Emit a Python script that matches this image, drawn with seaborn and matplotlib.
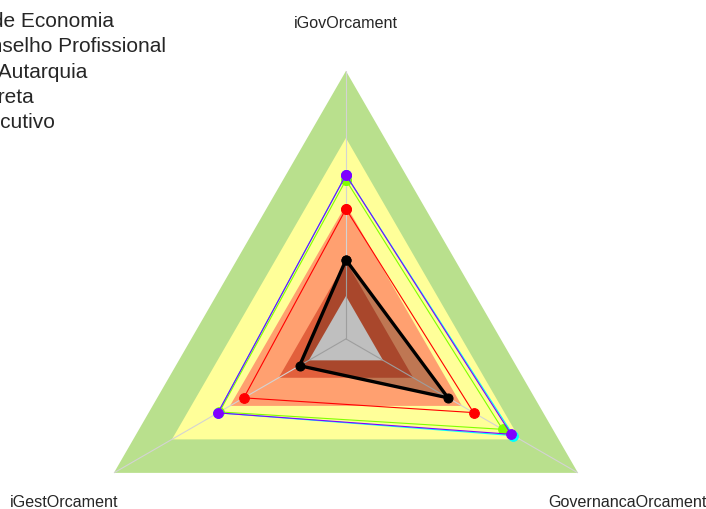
import numpy as np
import matplotlib
matplotlib.use('Agg')
import matplotlib.pyplot as plt
from matplotlib.lines import Line2D
import seaborn as sns

# Data
categories = ['iGovOrcament', 'GovernancaOrcament', 'iGestOrcament']
series_names = ['Mi de Economia', 'Conselho Profissional', 'Ind Autarquia',
                'Indireta', 'Executivo']
black_vals = [0.295, 0.44, 0.20]
red_vals = [0.485, 0.55, 0.44]
green_vals = [0.593, 0.675, 0.545]
cyan_vals = [0.612, 0.722, 0.552]
purple_vals = [0.612, 0.712, 0.552]
series_vals = [black_vals, red_vals, green_vals, cyan_vals, purple_vals]
series_colors = ['black', '#FF0000', '#80FF00', '#00FFFF', '#8000FF']

band_levels = [1.0, 0.75, 0.5, 0.29, 0.16]
band_colors = ['#B9E08D', '#FFFF99', '#FFA070', '#E2603C', 'white']

sns.set_style('white')
plt.rcParams['font.family'] = ['Liberation Sans', 'DejaVu Sans']

fig = plt.figure(figsize=(7.06, 5.10), dpi=100)
ax = fig.add_axes([0.1105, -0.192, 0.759, 1.051], projection='polar')
ax.set_theta_offset(np.pi / 2)
ax.set_theta_direction(-1)

theta = np.linspace(0, 2 * np.pi, len(categories), endpoint=False)
theta_c = np.append(theta, theta[0])

# background bands
for lev, col in zip(band_levels, band_colors):
    ax.fill(theta_c, [lev] * len(theta_c), color=col, lw=0, zorder=1)

# spokes
for t in theta:
    ax.plot([t, t], [0, 1], color='#D3D3D3', lw=0.8, zorder=2)

# black series fill
ax.fill(theta_c, black_vals + black_vals[:1], color='black', alpha=0.25, lw=0, zorder=3)

handles = []
for vals, col in zip(series_vals, series_colors):
    lw = 2.4 if col == 'black' else 0.8
    ms = 6.5 if col == 'black' else 7
    sns.lineplot(x=theta_c, y=vals + vals[:1], sort=False, estimator=None, ax=ax,
                 color=col, lw=lw, marker='o', markersize=ms,
                 markeredgecolor=col, zorder=4)
    handles.append(Line2D([], [], color=col, lw=lw, marker='o', markersize=ms))

label_r = [1.18, 1.215, 1.215]
for t, lab, r in zip(theta, categories, label_r):
    ax.text(t, r, lab, ha='center', va='center', fontsize=11.6)

ax.set_ylim(0, 1)
ax.set_xticks([])
ax.set_yticks([])
ax.grid(False)
ax.spines['polar'].set_visible(False)
ax.patch.set_visible(False)
ax.set_xlabel('')
ax.set_ylabel('')

fig.legend(handles, series_names, loc='upper left', bbox_to_anchor=(-0.133, 0.976),
           frameon=False, fontsize=15, borderpad=0, borderaxespad=0,
           handlelength=2, handletextpad=0.8, labelspacing=0.3)

plt.savefig('out.png', dpi=100)
